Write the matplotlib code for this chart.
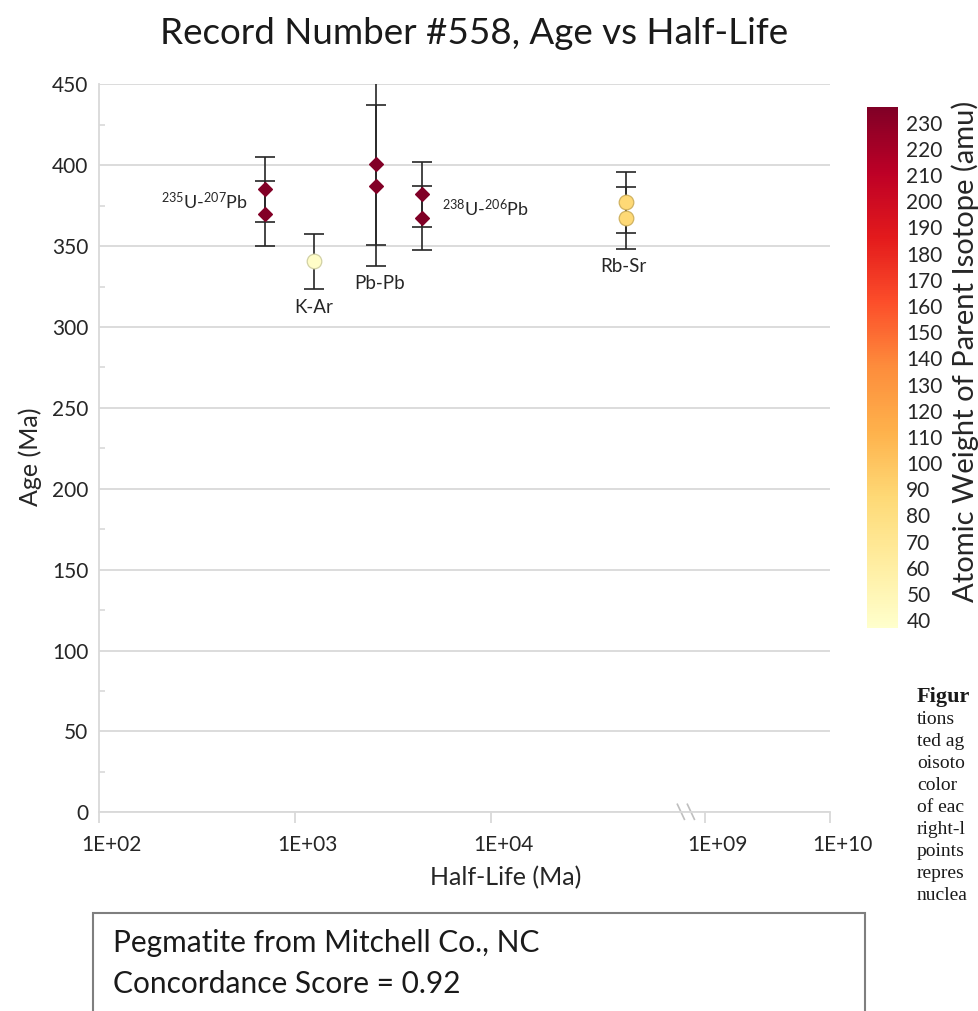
import numpy as np
import matplotlib
matplotlib.use("Agg")
import matplotlib.pyplot as plt
from matplotlib.transforms import ScaledTranslation
from matplotlib.colors import Normalize
from matplotlib.patches import Rectangle
from matplotlib.lines import Line2D
import matplotlib.colors as mcolors

plt.rcParams['font.family'] = ['Lato', 'DejaVu Sans']
plt.rcParams['mathtext.fontset'] = 'custom'
plt.rcParams['mathtext.rm'] = 'Lato'
plt.rcParams['mathtext.it'] = 'Lato:italic'
plt.rcParams['mathtext.bf'] = 'Lato:bold'

# ---------------- data ----------------
methods = [r"$^{235}$U-$^{207}$Pb", "K-Ar", "Pb-Pb", r"$^{238}$U-$^{206}$Pb", "Rb-Sr"]
half_life = [700, 1242, 2570, 4446, 48700]            # Ma
ages = [[385, 370], [340.5], [400.7, 387.4], [382, 367.4], [377, 367.4]]   # Ma
age_err = [[20, 20], [17], [50, 50], [20, 20], [19, 19]]                  # Ma
parent_weight = [235, 40, 235, 238, 87]                # amu
marker_shape = ['D', 'o', 'D', 'D', 'o']

x_ticks = [1e2, 1e3, 1e4, 1e9, 1e10]
x_tick_labels = ["1E+02", "1E+03", "1E+04", "1E+09", "1E+10"]
y_ticks = list(range(0, 451, 50))
cbar_ticks = list(range(40, 231, 10))

title = "Record Number #558, Age vs Half-Life"
sample_text = ["Pegmatite from Mitchell Co., NC", "Concordance Score = 0.92"]
caption = ["Figur", "tions", "ted ag", "oisoto", "color", "of eac",
           "right-l", "points", "repres", "nuclea"]

# ---------------- broken log scale ----------------
B1, B2 = 5.0, 8.864      # axis break between 1E+05 and ~7E+08
R = 0.637                # relative decade width after the break
EPS = 1e-3

def fwd(x):
    x = np.asarray(x, dtype=float)
    lx = np.log10(np.clip(x, 1e-300, None))
    return np.where(lx <= B1, lx,
                    np.where(lx <= B2, B1 + EPS * (lx - B1),
                             B1 + EPS * (B2 - B1) + R * (lx - B2)))

def inv(u):
    u = np.asarray(u, dtype=float)
    G = B1 + EPS * (B2 - B1)
    lx = np.where(u <= B1, u,
                  np.where(u <= G, B1 + (u - B1) / EPS, B2 + (u - G) / R))
    return 10.0 ** lx

# ---------------- figure ----------------
W, H = 979, 1011
fig = plt.figure(figsize=(W / 100, H / 100), dpi=100)
ax = fig.add_axes([99.3 / W, 1 - 812.3 / H, (830 - 99.3) / W, (812.3 - 84.3) / H])

grid_c = '#d9d9d9'
txt_c = '#262626'

ax.set_xscale('function', functions=(fwd, inv))
ax.set_xlim(1e2, 1e10)
ax.set_ylim(0, 450)

cmap = plt.get_cmap('YlOrRd')
norm = Normalize(vmin=37, vmax=236)

for hl, ag, er, w, m in zip(half_life, ages, age_err, parent_weight, marker_shape):
    col = cmap(norm(w))
    edge = col if m == 'D' else tuple(np.array(mcolors.to_rgb(col)) * 0.82)
    ms = 7.3 if m == 'D' else 10.5
    for a, e in zip(ag, er):
        ax.errorbar([hl], [a], yerr=[e], fmt='none', ecolor='#262626',
                    elinewidth=1.2, capsize=7.5, capthick=1.2, zorder=3)
    ax.plot([hl] * len(ag), ag, linestyle='none', marker=m, markersize=ms,
            markerfacecolor=col, markeredgecolor=edge, markeredgewidth=0.9, zorder=4)

# point labels
label_style = [  # (anchor, dx px, dy px, ha, va)
    ('mid', -17, 0, 'right', 'center'),
    ('low', 0, -19, 'center', 'center'),
    ('low', 4, -17, 'center', 'center'),
    ('mid', 20, -2, 'left', 'center'),
    ('low', -3, -18, 'center', 'center'),
]
for name, hl, ag, er, st in zip(methods, half_life, ages, age_err, label_style):
    anchor, dx, dy, ha, va = st
    if anchor == 'mid':
        yv = np.mean(ag)
    else:
        yv = min(a - e for a, e in zip(ag, er))
    fs = 13.5 if '$' not in name else 13
    ax.annotate(name, xy=(hl, yv), xytext=(dx * 0.72, dy * 0.72),
                textcoords='offset points', ha=ha, va=va, fontsize=fs, color=txt_c)

# axes styling
ax.set_yticks(y_ticks)
ax.set_yticks(np.arange(25, 450, 50), minor=True)
ax.set_xticks(x_ticks)
ax.set_xticklabels(x_tick_labels)
ax.xaxis.set_minor_locator(matplotlib.ticker.NullLocator())
ax.grid(axis='y', color=grid_c, linewidth=1.3, zorder=0)
ax.set_axisbelow(True)
for s in ['top', 'right']:
    ax.spines[s].set_visible(False)
for s in ['left', 'bottom']:
    ax.spines[s].set_color(grid_c)
    ax.spines[s].set_linewidth(1.3)
ax.tick_params(axis='y', which='major', length=0, pad=8, labelsize=15, labelcolor=txt_c)
ax.tick_params(axis='y', which='minor', direction='in', length=4.5, width=1.2, color=grid_c)
ax.tick_params(axis='x', which='major', direction='out', length=8, width=1.3, color=grid_c,
               pad=8, labelsize=15, labelcolor=txt_c)
for lbl in ax.get_xticklabels():
    lbl.set_transform(lbl.get_transform() + ScaledTranslation(12.4 / 100, 0, fig.dpi_scale_trans))

# axis break marks
fig.canvas.draw()
xb, yb = ax.transData.transform((1e5, 0))
for off in (-7, 3):
    x0 = (xb + off - 3) / W
    x1 = (xb + off + 4) / W
    ax.add_artist(Line2D([x0, x1], [(yb + 8) / H, (yb - 7) / H], transform=fig.transFigure,
                         color='#bfbfbf', linewidth=1.2, clip_on=False))

# titles
fig.text(474 / W, 1 - 34 / H, title, ha='center', va='center', fontsize=26.5, color='#1a1a1a')
fig.text(506 / W, 1 - 878 / H, "Half-Life (Ma)", ha='center', va='center', fontsize=18, color=txt_c)
fig.text(30 / W, 1 - 457 / H, "Age (Ma)", ha='center', va='center', rotation=90, fontsize=18, color=txt_c)

# colorbar
cax = fig.add_axes([867 / W, 1 - 628 / H, 31 / W, 521 / H])
sm = matplotlib.cm.ScalarMappable(norm=norm, cmap=cmap)
cb = fig.colorbar(sm, cax=cax, ticks=cbar_ticks)
cb.outline.set_visible(False)
cax.tick_params(length=0, pad=6, labelsize=15, labelcolor=txt_c)
fig.text(965 / W, 1 - 351 / H, "Atomic Weight of Parent Isotope (amu)", rotation=90,
         ha='center', va='center', fontsize=21, color=txt_c)

# sample box
fig.patches.append(Rectangle((93.5 / W, -0.05), (865 - 93.5) / W, 0.05 + (1 - 913 / H),
                             transform=fig.transFigure, fill=False, edgecolor='#7f7f7f', linewidth=1.5))
fig.text(113 / W, 1 - 943 / H, sample_text[0], ha='left', va='center', fontsize=21.5, color='#1a1a1a')
fig.text(113 / W, 1 - 984 / H, sample_text[1], ha='left', va='center', fontsize=21.5, color='#1a1a1a')

# caption fragment on the right (as visible in the reference)
for i, line in enumerate(caption):
    fig.text(917 / W, 1 - (697 + 22 * i) / H, line, ha='left', va='center',
             fontsize=16 if i == 0 else 14,
             family='Liberation Serif', weight='bold' if i == 0 else 'normal', color='#1a1a1a')

fig.savefig('out.png', dpi=100)
